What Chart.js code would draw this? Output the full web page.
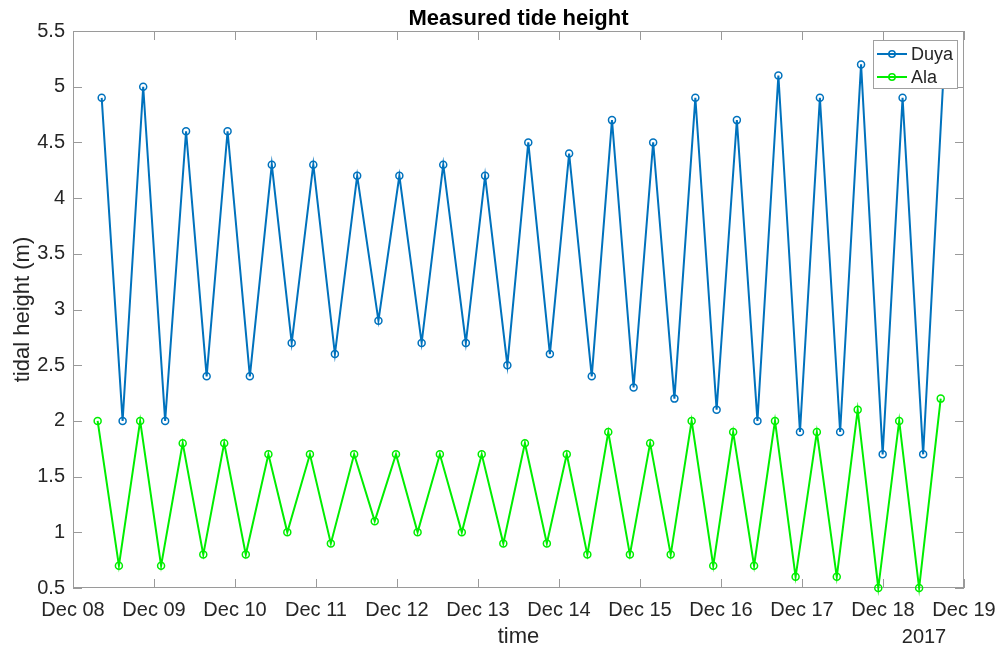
<!DOCTYPE html>
<html>
<head>
<meta charset="utf-8">
<title>Measured tide height</title>
<script src="https://cdn.jsdelivr.net/npm/chart.js@4/dist/chart.umd.min.js"></script>
<style>
  html, body { margin: 0; padding: 0; background: #ffffff; }
  #wrap { width: 1001px; height: 647px; }
</style>
</head>
<body>
<div id="wrap"><canvas id="tide" width="1001" height="647"></canvas></div>
<script>
// Hours after Dec 08 00:00 (2017) for each reading, and the measured heights (m)
const duyaHours = [8.5, 14.7, 20.8, 27.3, 33.5, 39.6, 45.8, 52.4, 58.9, 64.8,
  71.2, 77.6, 84.2, 90.5, 96.7, 103.3, 109.7, 116.4, 122.1, 128.7,
  134.9, 141.3, 147.0, 153.7, 159.7, 166.1, 171.9, 178.2, 184.4, 190.7,
  196.7, 202.8, 209.0, 215.4, 221.3, 227.3, 233.5, 239.9, 245.8, 251.9, 258.1];
const duyaHeight = [4.9, 2.0, 5.0, 2.0, 4.6, 2.4, 4.6, 2.4, 4.3, 2.7,
  4.3, 2.6, 4.2, 2.9, 4.2, 2.7, 4.3, 2.7, 4.2, 2.5,
  4.5, 2.6, 4.4, 2.4, 4.7, 2.3, 4.5, 2.2, 4.9, 2.1,
  4.7, 2.0, 5.1, 1.9, 4.9, 1.9, 5.2, 1.7, 4.9, 1.7, 5.2];

const alaHours = [7.3, 13.6, 19.9, 26.1, 32.5, 38.6, 44.8, 51.2, 57.9, 63.5,
  70.2, 76.4, 83.3, 89.4, 95.7, 102.1, 108.7, 115.2, 121.1, 127.5,
  133.9, 140.4, 146.3, 152.4, 158.6, 165.0, 171.0, 177.1, 183.3, 189.7,
  195.6, 201.8, 208.0, 214.1, 220.4, 226.3, 232.5, 238.6, 244.8, 250.7, 257.1];
const alaHeight = [2.0, 0.7, 2.0, 0.7, 1.8, 0.8, 1.8, 0.8, 1.7, 1.0,
  1.7, 0.9, 1.7, 1.1, 1.7, 1.0, 1.7, 1.0, 1.7, 0.9,
  1.8, 0.9, 1.7, 0.8, 1.9, 0.8, 1.8, 0.8, 2.0, 0.7,
  1.9, 0.7, 2.0, 0.6, 1.9, 0.6, 2.1, 0.5, 2.0, 0.5, 2.2];

// Axis tick labels
const dayLabels = ['Dec 08', 'Dec 09', 'Dec 10', 'Dec 11', 'Dec 12', 'Dec 13',
  'Dec 14', 'Dec 15', 'Dec 16', 'Dec 17', 'Dec 18', 'Dec 19'];
const heightTicks = [0.5, 1, 1.5, 2, 2.5, 3, 3.5, 4, 4.5, 5, 5.5];
const yearLabel = '2017';

const FONT = '"Liberation Sans", Arial, Helvetica, sans-serif';
const AXIS_COLOR = '#9a9a9a';
const TEXT_COLOR = '#262626';

function toPoints(xs, ys) {
  return xs.map((x, i) => ({ x: x, y: ys[i] }));
}

// Box around the plot with inward-pointing tick marks on all four sides
const boxAxes = {
  id: 'boxAxes',
  beforeDatasetsDraw(chart) {
    const { ctx, chartArea: a, scales } = chart;
    const len = 9;
    ctx.save();
    ctx.strokeStyle = AXIS_COLOR;
    ctx.lineWidth = 1;
    ctx.strokeRect(Math.round(a.left) + 0.5, Math.round(a.top) + 0.5,
      Math.round(a.right - a.left) - 1, Math.round(a.bottom - a.top) - 1);
    ctx.beginPath();
    scales.x.ticks.forEach(t => {
      const px = Math.round(scales.x.getPixelForValue(t.value)) + 0.5;
      ctx.moveTo(px, a.bottom); ctx.lineTo(px, a.bottom - len);
      ctx.moveTo(px, a.top); ctx.lineTo(px, a.top + len);
    });
    scales.y.ticks.forEach(t => {
      const py = Math.round(scales.y.getPixelForValue(t.value)) + 0.5;
      ctx.moveTo(a.left, py); ctx.lineTo(a.left + len, py);
      ctx.moveTo(a.right, py); ctx.lineTo(a.right - len, py);
    });
    ctx.stroke();
    ctx.restore();
  }
};

// Legend box inside the upper right corner of the plot
const innerLegend = {
  id: 'innerLegend',
  afterDatasetsDraw(chart) {
    const { ctx, chartArea: a } = chart;
    const w = 84, h = 48;
    const x0 = a.right - 7 - w, y0 = a.top + 9;
    ctx.save();
    ctx.fillStyle = '#ffffff';
    ctx.fillRect(x0, y0, w, h);
    ctx.strokeStyle = '#a0a0a0';
    ctx.lineWidth = 1;
    ctx.strokeRect(Math.round(x0) + 0.5, Math.round(y0) + 0.5, w, h);
    chart.data.datasets.forEach((ds, i) => {
      const cy = y0 + 14 + i * 23;
      ctx.strokeStyle = ds.borderColor;
      ctx.lineWidth = 2;
      ctx.beginPath();
      ctx.moveTo(x0 + 4, cy); ctx.lineTo(x0 + 34, cy);
      ctx.stroke();
      ctx.lineWidth = 1.5;
      ctx.beginPath();
      ctx.arc(x0 + 19, cy, 3.2, 0, Math.PI * 2);
      ctx.stroke();
      ctx.fillStyle = TEXT_COLOR;
      ctx.font = '18px ' + FONT;
      ctx.textAlign = 'left';
      ctx.textBaseline = 'middle';
      ctx.fillText(ds.label, x0 + 38, cy + 1);
    });
    ctx.restore();
  }
};

// Bold title over the plot and the year marker under the time axis
const headings = {
  id: 'headings',
  afterDraw(chart) {
    const { ctx, chartArea: a } = chart;
    ctx.save();
    ctx.fillStyle = '#000000';
    ctx.font = 'bold 22px ' + FONT;
    ctx.textAlign = 'center';
    ctx.textBaseline = 'alphabetic';
    ctx.fillText('Measured tide height', (a.left + a.right) / 2, 25);
    ctx.fillStyle = TEXT_COLOR;
    ctx.font = '20px ' + FONT;
    ctx.fillText(yearLabel, a.right - 40, 643);
    ctx.restore();
  }
};

new Chart(document.getElementById('tide'), {
  type: 'line',
  data: {
    datasets: [
      {
        label: 'Duya',
        data: toPoints(duyaHours, duyaHeight),
        borderColor: '#0072BD',
        borderWidth: 2,
        pointRadius: 3.5,
        pointBorderWidth: 1.5,
        pointBackgroundColor: 'rgba(255,255,255,0)',
        pointBorderColor: '#0072BD',
        tension: 0,
        clip: false
      },
      {
        label: 'Ala',
        data: toPoints(alaHours, alaHeight),
        borderColor: '#00ee00',
        borderWidth: 2,
        pointRadius: 3.5,
        pointBorderWidth: 1.5,
        pointBackgroundColor: 'rgba(255,255,255,0)',
        pointBorderColor: '#00ee00',
        tension: 0,
        clip: false
      }
    ]
  },
  options: {
    responsive: false,
    animation: false,
    devicePixelRatio: 1,
    layout: { padding: { top: 31, right: 37, bottom: 0, left: 0 } },
    plugins: {
      legend: { display: false },
      title: { display: false },
      tooltip: { enabled: false }
    },
    scales: {
      x: {
        type: 'linear',
        min: 0,
        max: (dayLabels.length - 1) * 24,
        afterFit(scale) {
          scale.height = 59;
          scale.paddingLeft = 0;
          scale.paddingRight = 0;
        },
        grid: { display: false, drawTicks: false, tickLength: 0 },
        border: { display: false },
        ticks: {
          stepSize: 24,
          maxTicksLimit: dayLabels.length,
          autoSkip: false,
          maxRotation: 0,
          padding: 10,
          color: TEXT_COLOR,
          font: { family: FONT, size: 20 },
          callback: (v) => dayLabels[Math.round(v / 24)]
        },
        title: {
          display: true,
          text: 'time',
          color: TEXT_COLOR,
          font: { family: FONT, size: 22 },
          padding: { top: 0, bottom: -3 }
        }
      },
      y: {
        type: 'linear',
        min: heightTicks[0],
        max: heightTicks[heightTicks.length - 1],
        afterFit(scale) {
          scale.width = 73;
          scale.paddingTop = 0;
          scale.paddingBottom = 0;
        },
        afterBuildTicks(scale) { scale.ticks = heightTicks.map(v => ({ value: v })); },
        grid: { display: false, drawTicks: false, tickLength: 0 },
        border: { display: false },
        ticks: {
          padding: 8,
          color: TEXT_COLOR,
          font: { family: FONT, size: 20 },
          callback: (v) => String(v)
        },
        title: {
          display: true,
          text: 'tidal height (m)',
          color: TEXT_COLOR,
          font: { family: FONT, size: 22 },
          padding: { top: 10, bottom: 0 }
        }
      }
    }
  },
  plugins: [boxAxes, innerLegend, headings]
});
</script>
</body>
</html>
